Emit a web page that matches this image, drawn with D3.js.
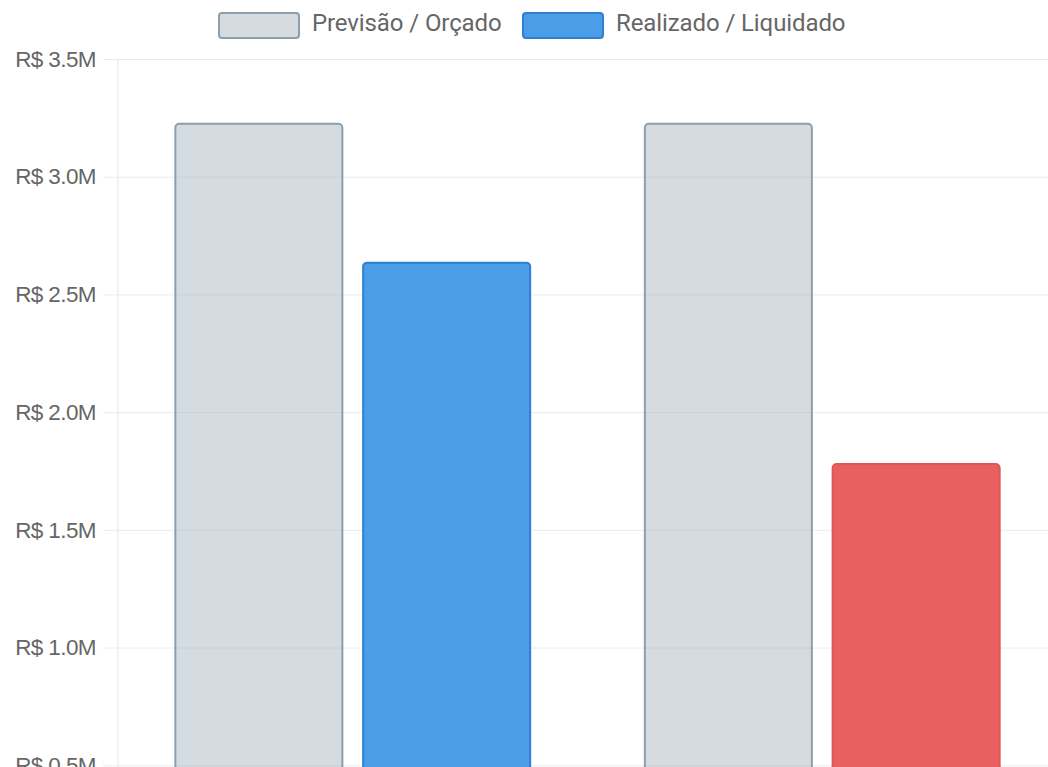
<!DOCTYPE html>
<html lang="pt-BR">
<head>
<meta charset="utf-8">
<script src="https://cdn.jsdelivr.net/npm/d3@7"></script>
<style>
  html, body { margin: 0; padding: 0; background: #fff; overflow: hidden; }
  svg { display: block; }
</style>
</head>
<body>
<div id="chart"></div>
<script>
// Budget vs. realized, in millions of reais
const categories = ["Receitas", "Despesas"];
const seriesNames = ["Previsão / Orçado", "Realizado / Liquidado"];
const previsto = [3.225, 3.225];
const realizado = [2.635, 1.78];
const yTicks = [0.5, 1.0, 1.5, 2.0, 2.5, 3.0, 3.5];

const W = 1048, H = 767;
const svg = d3.select("#chart").append("svg").attr("width", W).attr("height", H);

const plot = { left: 118, right: 1057, top: 59 };
const y = d3.scaleLinear().domain([0, 3.5]).range([883, plot.top]);

const x0 = d3.scaleBand().domain(categories)
  .range([plot.left, plot.right]).paddingInner(0.2).paddingOuter(0.1);
const x1 = d3.scaleBand().domain(seriesNames)
  .range([0, x0.bandwidth()]).paddingInner(0.1).paddingOuter(0.05);

const legendFont = "Roboto, 'Liberation Sans', sans-serif";
const tickFont = "'Liberation Sans', Arial, sans-serif";

// grid + y axis
const yAxis = d3.axisLeft(y).tickValues(yTicks)
  .tickSize(-(plot.right - plot.left) - 15)
  .tickPadding(7)
  .tickFormat(d => "R$ " + d3.format(".1f")(d) + "M");
const gy = svg.append("g").attr("transform", `translate(${plot.left - 15},0)`).call(yAxis);
gy.select(".domain").remove();
gy.selectAll(".tick line").attr("stroke", "#ebebeb").attr("stroke-width", 1);
gy.selectAll(".tick text").attr("fill", "#666").attr("font-family", tickFont)
  .attr("font-size", 22.5).attr("letter-spacing", -0.6);

svg.append("line").attr("x1", plot.left).attr("x2", plot.left)
  .attr("y1", plot.top).attr("y2", H).attr("stroke", "#e6e6e6");

// bars
const styles = {
  prev: { fill: "rgba(160,178,188,0.45)", stroke: "#8d9fab" },
  real: [{ fill: "#4a9de6", stroke: "#2f7fd3" }, { fill: "#e96060", stroke: "#e05656" }]
};

const rows = categories.map((c, i) => ({ c, i }));
const g = svg.selectAll("g.cat").data(rows).join("g").attr("class", "cat")
  .attr("transform", d => `translate(${x0(d.c)},0)`);

g.append("rect")
  .attr("x", x1(seriesNames[0]) + 1).attr("width", x1.bandwidth() - 2)
  .attr("y", d => y(previsto[d.i])).attr("height", d => y(0) - y(previsto[d.i]))
  .attr("rx", 4).attr("fill", styles.prev.fill)
  .attr("stroke", styles.prev.stroke).attr("stroke-width", 2);

g.append("rect")
  .attr("x", x1(seriesNames[1]) + 1).attr("width", x1.bandwidth() - 2)
  .attr("y", d => y(realizado[d.i])).attr("height", d => y(0) - y(realizado[d.i]))
  .attr("rx", 4).attr("fill", d => styles.real[d.i].fill)
  .attr("stroke", d => styles.real[d.i].stroke).attr("stroke-width", 2);

// legend
const legend = [
  { name: seriesNames[0], x: 218, fill: "rgba(160,178,188,0.45)", stroke: "#8d9fab" },
  { name: seriesNames[1], x: 522, fill: "#4a9de6", stroke: "#2f7fd3" }
];
const lg = svg.selectAll("g.leg").data(legend).join("g").attr("class", "leg")
  .attr("transform", d => `translate(${d.x},12)`);
lg.append("rect").attr("x", 1).attr("y", 1).attr("width", 80).attr("height", 25).attr("rx", 3)
  .attr("fill", d => d.fill).attr("stroke", d => d.stroke).attr("stroke-width", 2);
lg.append("text").attr("x", 94).attr("y", 19).attr("fill", "#666")
  .attr("font-family", legendFont).attr("font-size", 24).attr("letter-spacing", -0.1)
  .text(d => d.name);
</script>
</body>
</html>
